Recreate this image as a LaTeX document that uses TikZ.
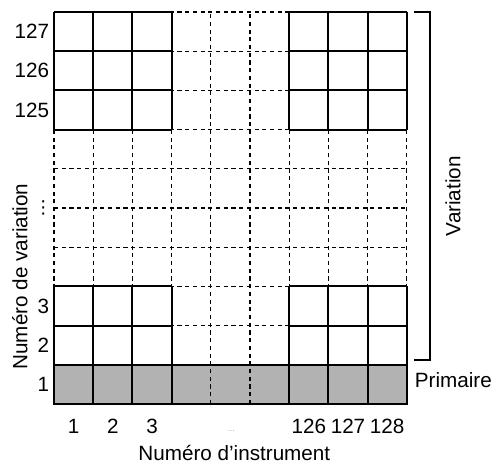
\documentclass[tikz,border=0pt]{standalone}
\usepackage{fontspec}
\setmainfont{Liberation Sans}
\newfontfamily\symfont{DejaVu Sans}
\usepackage{tikz}
\usepackage{xcolor}

\begin{document}
\begin{tikzpicture}[
  solidline/.style={line width=1.4pt},
  dashline/.style={line width=0.8pt, dash pattern=on 3pt off 2.6pt},
  lbl/.style={font=\fontsize{15}{18}\selectfont, inner sep=1pt}
]
  \useasboundingbox (-1.378,-1.633) rectangle (11.403,10.306);

  % Primary row (shaded)
  \fill[black!30] (0,0) rectangle (9,1);

  % Dashed grid of all variations
  \draw[dashline] (0,0) grid (9,10);

  % Solid blocks in the four corners
  \draw[solidline] (0,0) grid (3,3);
  \draw[solidline] (0,7) grid (3,10);
  \draw[solidline] (6,0) grid (9,3);
  \draw[solidline] (6,7) grid (9,10);
  \draw[solidline] (0,0) rectangle (9,1);

  % Variation numbers
  \node[lbl, left] (v127) at (-0.08,9.5) {127};
  \node[lbl, left] (v126) at (-0.08,8.5) {126};
  \node[lbl, left] (v125) at (-0.08,7.5) {125};
  \node[lbl, left] (v3) at (-0.08,2.5) {3};
  \node[lbl, left] (v2) at (-0.08,1.5) {2};
  \node[lbl, left] (v1) at (-0.08,0.5) {1};
  \node[font=\symfont\fontsize{13}{15}\selectfont, inner sep=0pt] (vdots) at (-0.27,5.0) {⋮};
  \node[lbl, rotate=90] (vtitle) at (-0.87,3.25) {Numéro de variation};

  % Instrument numbers
  \node[lbl] (i1) at (0.5,-0.57) {1};
  \node[lbl] (i2) at (1.5,-0.57) {2};
  \node[lbl] (i3) at (2.5,-0.57) {3};
  \node[lbl] (i126) at (6.5,-0.57) {126};
  \node[lbl] (i127) at (7.5,-0.57) {127};
  \node[lbl] (i128) at (8.5,-0.57) {128};
  \node[font=\tiny, text=black!50] (idots) at (4.52,-0.68) {\ldots};
  \node[lbl] (ititle) at (4.6,-1.24) {Numéro d'instrument};

  % Bracket of the variations
  \draw[solidline] (9.18,10) -- (9.59,10) -- (9.59,1.12) -- (9.18,1.12);
  \node[lbl, rotate=90] (vbracket) at (10.18,5.3) {Variation};
  \node[lbl, right, inner sep=0pt] (prim) at (9.2,0.62) {Primaire};

\end{tikzpicture}
\end{document}
